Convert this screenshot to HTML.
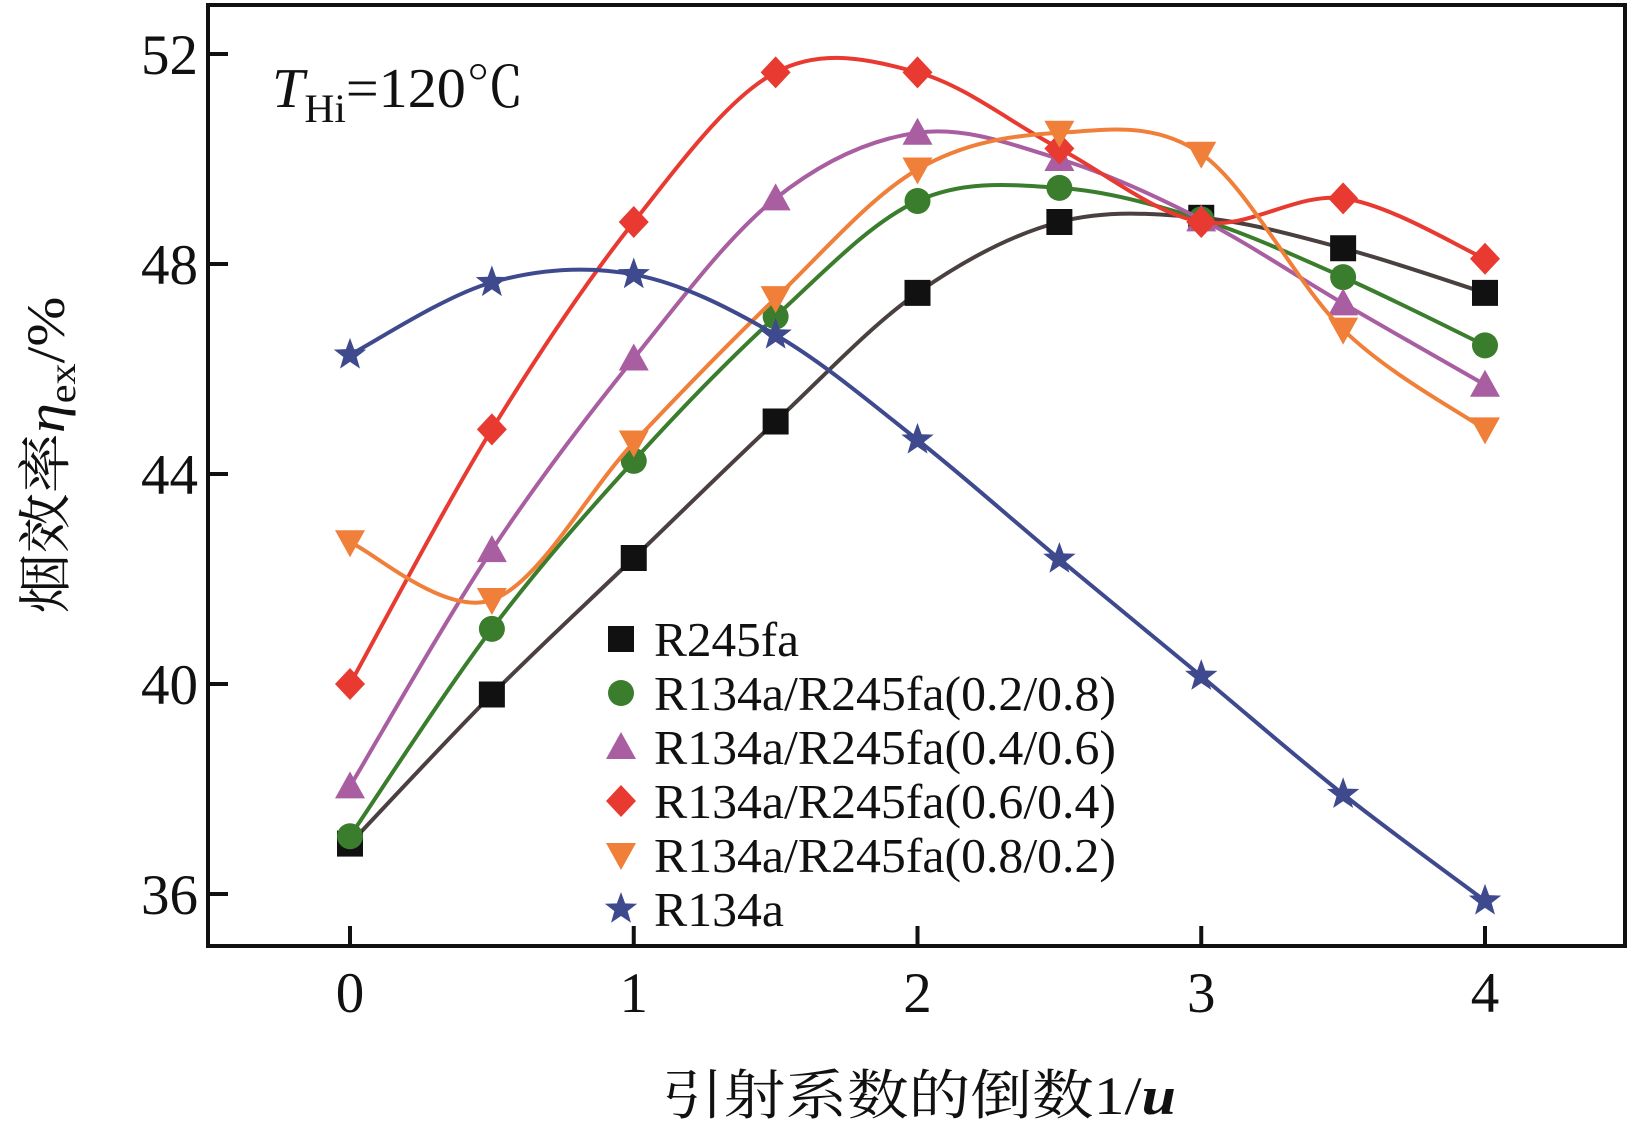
<!DOCTYPE html>
<html><head><meta charset="utf-8"><style>
html,body{margin:0;padding:0;background:#fff;}
svg{display:block;font-family:"Liberation Serif","Noto Serif CJK SC",serif;}
</style></head><body>
<svg id="chart" width="1628" height="1129" viewBox="0 0 1628 1129">
<rect x="208" y="5" width="1417" height="941" fill="none" stroke="#111" stroke-width="4"/>
<g id="axes"></g>
<g id="series"></g>
<text x="272" y="107" font-size="56" fill="#111" textLength="252" lengthAdjust="spacingAndGlyphs"><tspan font-style="italic">T</tspan><tspan font-size="40" dy="15">Hi</tspan><tspan dy="-15">=120℃</tspan></text>
<text x="919" y="1114" text-anchor="middle" font-size="54" fill="#111" textLength="514" lengthAdjust="spacingAndGlyphs">引射系数的倒数1/<tspan font-style="italic" font-weight="bold">u</tspan></text>
<text transform="translate(64,455) rotate(-90)" text-anchor="middle" font-size="54" fill="#111" textLength="317" lengthAdjust="spacingAndGlyphs">烟效率<tspan font-style="italic">η</tspan><tspan font-size="38" dy="11">ex</tspan><tspan dy="-11">/%</tspan></text>
<g id="legend"></g>
</svg>
<script>
const xValues=[0,0.5,1,1.5,2,2.5,3,3.5,4];
const seriesNames=["R245fa","R134a/R245fa(0.2/0.8)","R134a/R245fa(0.4/0.6)","R134a/R245fa(0.6/0.4)","R134a/R245fa(0.8/0.2)","R134a"];
const r245fa=[36.96,39.8,42.4,45.0,47.45,48.8,48.88,48.3,47.45];
const mix28=[37.1,41.05,44.25,47.0,49.2,49.45,48.85,47.75,46.45];
const mix46=[38.05,42.55,46.2,49.25,50.5,50.0,48.85,47.25,45.7];
const mix64=[40.0,44.85,48.8,51.65,51.65,50.2,48.8,49.25,48.1];
const mix82=[42.7,41.6,44.6,47.35,49.8,50.5,50.1,46.75,44.85];
const r134a=[46.27,47.65,47.8,46.65,44.65,42.38,40.15,37.9,35.87];
const xTicks=[0,1,2,3,4];
const yTicks=[36,40,44,48,52];

const NS="http://www.w3.org/2000/svg";
const X=v=>350+v*283.75;
const Y=v=>54+(52-v)*52.5;
function mk(tag,attrs,parent){const e=document.createElementNS(NS,tag);for(const k in attrs)e.setAttribute(k,attrs[k]);parent.appendChild(e);return e;}
const axes=document.getElementById('axes');
xTicks.forEach(t=>{
  const l=mk('line',{x1:X(t),x2:X(t),y1:946,y2:926,stroke:'#111','stroke-width':4},axes);
  
  
  const tx=mk('text',{x:X(t),y:1012,'text-anchor':'middle','font-size':57,fill:'#111'},axes);
  tx.textContent=t;
  
  
});
yTicks.forEach(t=>{
  const l=mk('line',{x1:208,x2:228,y1:Y(t),y2:Y(t),stroke:'#111','stroke-width':4},axes);
  
  
  const tx=mk('text',{x:198,y:Y(t)+20,'text-anchor':'end','font-size':57,fill:'#111'},axes);
  tx.textContent=t;
  
  
});
function pathFor(vals){
  const p=vals.map((v,i)=>[X(xValues[i]),Y(v)]);
  let d=`M${p[0][0]},${p[0][1]}`;
  for(let i=0;i<p.length-1;i++){
    const p0=p[Math.max(0,i-1)],p1=p[i],p2=p[i+1],p3=p[Math.min(p.length-1,i+2)];
    const c1=[p1[0]+(p2[0]-p0[0])/6,p1[1]+(p2[1]-p0[1])/6];
    const c2=[p2[0]-(p3[0]-p1[0])/6,p2[1]-(p3[1]-p1[1])/6];
    d+=` C${c1[0]},${c1[1]} ${c2[0]},${c2[1]} ${p2[0]},${p2[1]}`;
  }
  return d;
}
function marker(type,cx,cy,color,parent){
  const s=13;
  if(type==='square')return mk('rect',{x:cx-s,y:cy-s,width:2*s,height:2*s,fill:color},parent);
  if(type==='circle')return mk('circle',{cx:cx,cy:cy,r:s,fill:color},parent);
  if(type==='tri')return mk('polygon',{points:`${cx},${cy-15} ${cx+15},${cy+12} ${cx-15},${cy+12}`,fill:color},parent);
  if(type==='diamond')return mk('polygon',{points:`${cx},${cy-16} ${cx+15},${cy} ${cx},${cy+16} ${cx-15},${cy}`,fill:color},parent);
  if(type==='itri')return mk('polygon',{points:`${cx-15},${cy-12} ${cx+15},${cy-12} ${cx},${cy+15}`,fill:color},parent);
  let pts=[];for(let k=0;k<10;k++){const r=k%2?7:17;const a=-Math.PI/2+k*Math.PI/5;pts.push(`${cx+r*Math.cos(a)},${cy+r*Math.sin(a)}`);}
  return mk('polygon',{points:pts.join(' '),fill:color},parent);
}
const defs=[
 {vals:r245fa,line:'#4a4040',mc:'#111',m:'square',n:'r245fa',w:145},
 {vals:mix28,line:'#3a7d2c',mc:'#3a7d2c',m:'circle',n:'mix-0.2-0.8',w:462},
 {vals:mix46,line:'#a85ea0',mc:'#a85ea0',m:'tri',n:'mix-0.4-0.6',w:462},
 {vals:mix64,line:'#e83a30',mc:'#e83a30',m:'diamond',n:'mix-0.6-0.4',w:462},
 {vals:mix82,line:'#f07f3a',mc:'#f07f3a',m:'itri',n:'mix-0.8-0.2',w:462},
 {vals:r134a,line:'#3f4a8e',mc:'#3f4a8e',m:'star',n:'r134a',w:130}];
const sg=document.getElementById('series');
const lg=document.getElementById('legend');
defs.forEach((s,si)=>{
  const g=mk('g',{},sg);
  
  
  const pa=mk('path',{d:pathFor(s.vals),fill:'none',stroke:s.line,'stroke-width':4},g);
  
  
  s.vals.forEach((v,i)=>{
    const m=marker(s.m,X(xValues[i]),Y(v),s.mc,g);
    
    
  });
  const ly=639+si*54;
  const lm=marker(s.m,621,ly,s.mc,lg);
  
  
  const lt=mk('text',{x:654,y:ly+17,'font-size':49,fill:'#111',textLength:s.w,lengthAdjust:'spacingAndGlyphs'},lg);
  lt.textContent=seriesNames[si];
  
  
});
</script>
</body></html>
